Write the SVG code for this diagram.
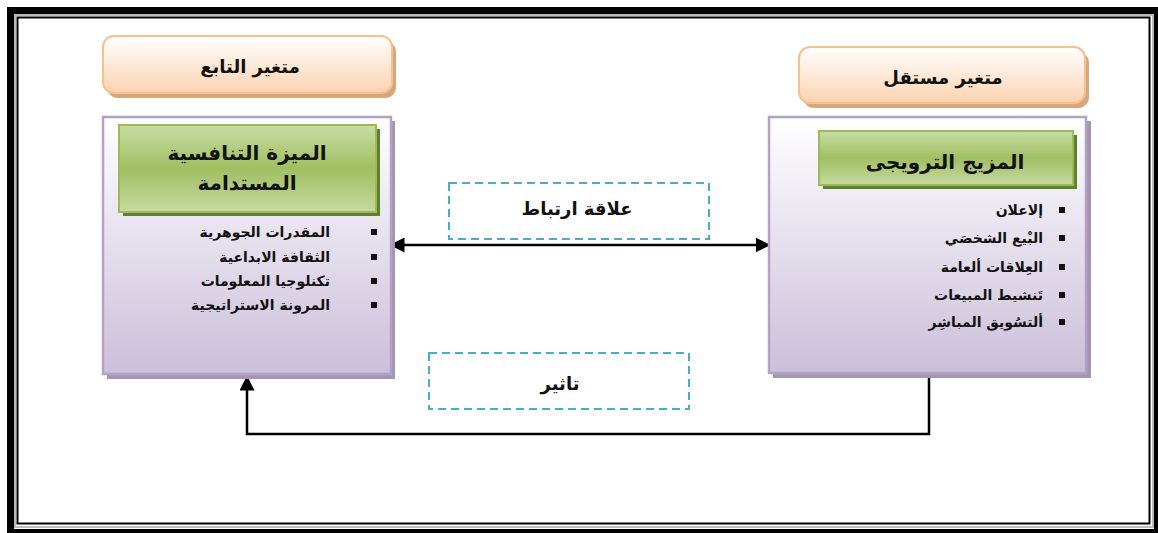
<svg xmlns="http://www.w3.org/2000/svg" width="1158" height="533" viewBox="0 0 1158 533">
<defs>
<linearGradient id="gPeach" x1="0" y1="0" x2="0" y2="1"><stop offset="0" stop-color="#ffffff"/><stop offset="1" stop-color="#fbd3b0"/></linearGradient>
<linearGradient id="gLav" x1="0" y1="0" x2="0" y2="1"><stop offset="0" stop-color="#ffffff"/><stop offset="1" stop-color="#cbbfda"/></linearGradient>
<linearGradient id="gGreen" x1="0" y1="0" x2="0" y2="1"><stop offset="0" stop-color="#c9dca4"/><stop offset="0.5" stop-color="#a0bf62"/><stop offset="1" stop-color="#c6d9a0"/></linearGradient>
<marker id="arr" viewBox="0 0 10 10" refX="9" refY="5" markerWidth="6" markerHeight="6" orient="auto-start-reverse" markerUnits="strokeWidth"><path d="M0,0 L10,5 L0,10 z" fill="#000"/></marker>
<style>
.t{font-family:"DejaVu Sans","Liberation Sans",sans-serif;font-weight:bold;fill:#111}
.hdr{fill:url(#gPeach);stroke:#f9bf8c;stroke-width:2}
.hdrs{fill:#d6a67e}
.box{fill:url(#gLav);stroke:#b3a2c7;stroke-width:2.5}
.boxs{fill:#a396b3}
.grn{fill:url(#gGreen);stroke:#9bbb59;stroke-width:2}
.grns{fill:#617f31}
.dash{fill:none;stroke:#4bacc6;stroke-width:2;stroke-dasharray:8,5}
.line{fill:none;stroke:#000;stroke-width:2.5}
.bul{fill:#111}
</style>
</defs>
<rect width="1158" height="533" fill="#ffffff"/>
<g id="frame">
<rect x="10.5" y="10.5" width="1147" height="522" fill="none" stroke="#000" stroke-width="7"/>
<rect x="15" y="15" width="1138" height="512" fill="none" stroke="#a6a6a6" stroke-width="1.5"/>
<rect x="17.5" y="17.5" width="1132" height="506" fill="none" stroke="#000" stroke-width="2"/>
</g>
<g id="connectors">
<line class="line" x1="391" y1="245" x2="769" y2="245" marker-start="url(#arr)" marker-end="url(#arr)"/>
<polyline class="line" points="929,374 929,434 247,434 247,377" marker-end="url(#arr)"/>
</g>
<g id="hdr-left">
<rect class="hdrs" x="107" y="41" width="289" height="57" rx="11"/>
<rect class="hdr" x="103" y="36" width="289" height="57" rx="11"/>
<text class="t" x="250" y="73" font-size="18" text-anchor="middle">متغير التابع</text>
</g>
<g id="hdr-right">
<rect class="hdrs" x="803" y="52" width="286" height="56" rx="11"/>
<rect class="hdr" x="799" y="47" width="286" height="56" rx="11"/>
<text class="t" x="943" y="84" font-size="18" text-anchor="middle">متغير مستقل</text>
</g>
<g id="box-left">
<rect class="boxs" x="107" y="121" width="288" height="258"/>
<rect class="box" x="103" y="117" width="288" height="257"/>
<rect class="grns" x="123" y="129" width="257" height="87"/>
<rect class="grn" x="119" y="125" width="257" height="87"/>
<text class="t" x="247" y="160" font-size="20" text-anchor="middle">الميزة التنافسية</text>
<text class="t" x="247" y="190" font-size="20" text-anchor="middle">المستدامة</text>
<g class="t" font-size="14" text-anchor="end">
<text x="330" y="237">المقدرات الجوهرية</text>
<text x="330" y="262">الثقافة الابداعية</text>
<text x="330" y="286">تكنلوجيا المعلومات</text>
<text x="330" y="310">المرونة الاستراتيجية</text>
</g>
<rect class="bul" x="371" y="229" width="6" height="6"/>
<rect class="bul" x="371" y="254" width="6" height="6"/>
<rect class="bul" x="371" y="278" width="6" height="6"/>
<rect class="bul" x="371" y="302" width="6" height="6"/>
</g>
<g id="box-right">
<rect class="boxs" x="773" y="121" width="318" height="257"/>
<rect class="box" x="769" y="117" width="317" height="256"/>
<rect class="grns" x="823" y="135" width="254" height="54"/>
<rect class="grn" x="819" y="131" width="254" height="54"/>
<text class="t" x="945" y="169" font-size="20" text-anchor="middle">المزيج الترويجى</text>
<g class="t" font-size="14" text-anchor="end">
<text x="1043" y="215">إلاعلان</text>
<text x="1043" y="243">البْيع الشخصَي</text>
<text x="1043" y="272">العِلاقات ألعامة</text>
<text x="1043" y="300">تَنشيط المبيعات</text>
<text x="1043" y="327">ألتسُويق المباشِر</text>
</g>
<rect class="bul" x="1059" y="207" width="6" height="6"/>
<rect class="bul" x="1059" y="235" width="6" height="6"/>
<rect class="bul" x="1059" y="264" width="6" height="6"/>
<rect class="bul" x="1059" y="292" width="6" height="6"/>
<rect class="bul" x="1059" y="319" width="6" height="6"/>
</g>
<g id="label-corr">
<rect class="dash" x="449" y="183" width="260" height="56"/>
<text class="t" x="577" y="215" font-size="18" text-anchor="middle">علاقة ارتباط</text>
</g>
<g id="label-effect">
<rect class="dash" x="429" y="353" width="260" height="56"/>
<text class="t" x="560" y="390" font-size="18" text-anchor="middle">تاثير</text>
</g>
</svg>
